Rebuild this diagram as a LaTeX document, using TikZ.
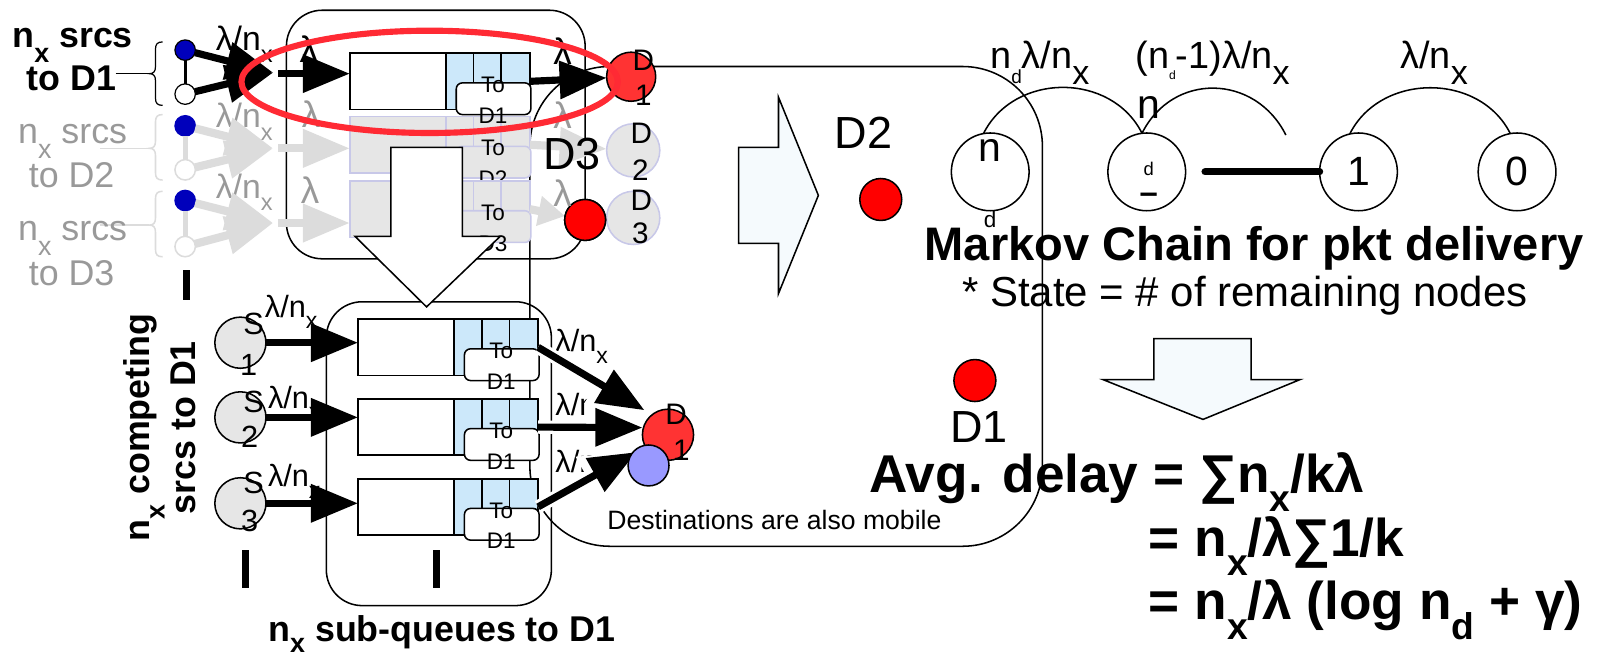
\documentclass[tikz,border=0pt]{standalone}
\usepackage{fontspec}
\setmainfont{Liberation Sans}
\usepackage{graphicx}
\usetikzlibrary{arrows.meta,shapes.geometric}

\definecolor{qblue}{RGB}{204,232,250}
\definecolor{ggray}{RGB}{230,230,230}
\definecolor{glav}{RGB}{200,200,232}
\definecolor{gtext}{RGB}{153,153,153}
\definecolor{garrow}{RGB}{220,220,220}
\definecolor{dotblue}{RGB}{0,0,187}
\definecolor{redA}{RGB}{255,51,51}
\definecolor{redB}{RGB}{255,0,0}
\definecolor{ellred}{RGB}{255,42,52}
\definecolor{lav}{RGB}{153,153,255}
\definecolor{barrow}{RGB}{245,250,253}

\newcommand\myfs[1]{\fontsize{#1}{#1}\selectfont}
\newcommand\mylo[3]{\raisebox{#2}{\scalebox{#1}{#3}}}

% queue: name, L, T, left fill, right fill, border, label
\newcommand\myqueue[7]{%
 \node[draw=#6, fill=#4, line width=1.5pt, minimum width=176pt, minimum height=55pt, anchor=north west] (#1) at (#2,#3) {};
 \fill[#5] (#2+94,#3) rectangle (#2+176,#3+55);
 \draw[draw=#6, line width=1.5pt] (#2+94,#3) -- (#2+94,#3+55) (#2+121,#3) -- (#2+121,#3+55) (#2+148,#3) -- (#2+148,#3+55) (#2,#3) rectangle (#2+176,#3+55);
 \node[draw=#6, fill=#4, line width=1.5pt, rounded corners=6pt, minimum width=73pt, minimum height=31pt, anchor=north west] (#1t) at (#2+104,#3+29) {};
 \node[font=\myfs{22}] (#1a) at (#2+140,#3+31) {To};
 \node[font=\myfs{22}] (#1b) at (#2+140,#3+61) {#7};
}
% brace: options, x, top, bottom, tip
\newcommand\mybrace[5]{%
 \draw[#1] (#2+7,#3) .. controls (#2+2,#3) and (#2,#3+2) .. (#2,#3+7) -- (#2,#5-7) .. controls (#2,#5-2) and (#2-2,#5) .. (#2-6,#5) .. controls (#2-2,#5) and (#2,#5+2) .. (#2,#5+7) -- (#2,#4-7) .. controls (#2,#4-2) and (#2+2,#4) .. (#2+7,#4);
}

\tikzset{
 every node/.style={inner sep=0pt, outer sep=0pt},
 bigarr/.style={line width=7pt, -{Triangle[length=46pt,width=36pt]}},
 grayarr/.style={draw=garrow, line width=8pt, -{Triangle[length=46pt,width=36pt]}},
 whitearr/.style={draw=white, line width=13pt, -{Triangle[length=54pt,width=46pt]}},
 bdot/.style={circle, draw, fill=dotblue, line width=1.2pt, minimum size=20pt},
 wdot/.style={circle, draw, fill=white, line width=1.2pt, minimum size=20pt},
 gbdot/.style={circle, draw=dotblue, fill=dotblue, line width=1.2pt, minimum size=20pt},
 gwdot/.style={circle, draw=garrow, fill=white, line width=1.5pt, minimum size=20pt},
 mc/.style={circle, draw, line width=1.5pt, minimum size=76pt},
 frame/.style={draw, line width=1.5pt},
 tick/.style={line width=7pt},
}

\begin{document}
\begin{tikzpicture}[x=1pt,y=-1pt]
\useasboundingbox (0,0) rectangle (1568,646);

% ---------- frames ----------
\node[frame, rounded corners=78pt, minimum width=501pt, minimum height=469pt] (dest) at (768.5,299.5) {};
\node[frame, rounded corners=35pt, minimum width=292pt, minimum height=243pt] (toprect) at (426,131.5) {};
\node[frame, rounded corners=35pt, minimum width=220pt, minimum height=297pt] (botrect) at (429,443.5) {};

% ---------- gray row 2 ----------
\mybrace{draw=garrow, line width=1.5pt}{152}{112}{176}{145}
\coordinate (g2s) at (98,145); \coordinate (g2t) at (146,145);
\draw[garrow, line width=1.5pt] (g2s) -- (g2t);
\node[font=\myfs{35}, text=gtext, anchor=base] (g2a) at (71,140) {n\mylo{0.75}{-0.43em}{x} srcs};
\node[font=\myfs{35}, text=gtext, anchor=base] (g2b) at (70,183) {to D2};
\node[gbdot] (bd2) at (181,123) {};
\node[gwdot] (wd2) at (181,166) {};
\draw[garrow, line width=5pt] (bd2) -- (wd2);
\node[font=\myfs{33}, text=gtext, anchor=base west] (ln2) at (211,125) {λ/n\mylo{0.7}{-0.36em}{x}};
\coordinate (cv2) at (267,145);
\draw[grayarr] (bd2) -- (cv2);
\draw[grayarr] (wd2) -- (cv2);
\myqueue{q2}{342}{114}{ggray}{ggray}{glav}{D2}
\coordinate (s2) at (272,145);
\draw[grayarr] (s2) -- (q2.west |- s2);
\node[font=\myfs{36}, text=gtext] (lg2a) at (304,112) {λ};

% ---------- gray row 3 ----------
\mybrace{draw=garrow, line width=1.5pt}{152}{187}{251}{220}
\coordinate (g3s) at (98,220); \coordinate (g3t) at (146,220);
\draw[garrow, line width=1.5pt] (g3s) -- (g3t);
\node[font=\myfs{35}, text=gtext, anchor=base] (g3a) at (71,235) {n\mylo{0.75}{-0.43em}{x} srcs};
\node[font=\myfs{35}, text=gtext, anchor=base] (g3b) at (70,279) {to D3};
\node[gbdot] (bd3) at (181,196) {};
\node[gwdot] (wd3) at (181,241) {};
\draw[garrow, line width=5pt] (bd3) -- (wd3);
\node[font=\myfs{33}, text=gtext, anchor=base west] (ln3) at (211,194) {λ/n\mylo{0.7}{-0.36em}{x}};
\coordinate (cv3) at (267,218);
\draw[grayarr] (bd3) -- (cv3);
\draw[grayarr] (wd3) -- (cv3);
\myqueue{q3}{342}{177}{ggray}{ggray}{glav}{D3}
\coordinate (s3) at (272,218);
\draw[grayarr] (s3) -- (q3.west |- s3);
\node[font=\myfs{36}, text=gtext] (lg3a) at (303,186) {λ};

% gray destinations
\node[circle, draw=glav, fill=ggray, line width=1.5pt, minimum size=52pt] (d2g) at (619,147) {};
\node[circle, draw=glav, fill=ggray, line width=1.5pt, minimum size=52pt] (d3g) at (619,213) {};
\node[circle, draw, fill=redB, line width=1.5pt, minimum size=40pt] (d3r) at (572,215) {};
\draw[grayarr] (q2.east) -- (d2g);
\draw[draw=garrow, line width=8pt, -{Triangle[length=26pt,width=28pt]}] (q3.east) -- (d3r);
\node[circle, draw, fill=redB, line width=1.5pt, minimum size=40pt] (d3r2) at (572,215) {};
\node[font=\myfs{36}, text=gtext] (lg2b) at (550,113) {λ};
\node[font=\myfs{36}, text=gtext] (lg3b) at (550,189) {λ};
\node[font=\myfs{29}] (d2ga) at (627,130) {D};
\node[font=\myfs{29}] (d2gb) at (626,166) {2};
\node[font=\myfs{29}] (d3ga) at (627,196) {D};
\node[font=\myfs{29}] (d3gb) at (626,228) {3};
\node[font=\myfs{44}] (d3big) at (559,151) {D3};

% big down arrow
\draw[frame, fill=white] (382,144) -- (452,144) -- (452,231) -- (489,231) -- (417,300) -- (347,231) -- (382,231) -- cycle;

% ---------- row 1 (black) ----------
\mybrace{line width=1.2pt}{152}{41}{103}{72}
\coordinate (b1s) at (113,72); \coordinate (b1t) at (146,72);
\draw[line width=1.2pt] (b1s) -- (b1t);
\node[font=\bfseries\myfs{35}, anchor=base] (t1a) at (71,46) {n\mylo{0.75}{-0.43em}{x} srcs};
\node[font=\bfseries\myfs{35}, anchor=base] (t1b) at (70,88) {to D1};
\node[bdot] (bd1) at (181,49) {};
\node[wdot] (wd1) at (181,92) {};
\draw[line width=3pt] (bd1) -- (wd1);
\node[font=\myfs{33}, anchor=base west] (ln1) at (211,49) {λ/n\mylo{0.7}{-0.36em}{x}};
\coordinate (cv1) at (267,71);
\draw[bigarr] (bd1) -- (cv1);
\draw[bigarr] (wd1) -- (cv1);
\myqueue{q1}{342}{52}{white}{qblue}{black}{D1}
\coordinate (s1) at (272,72);
\draw[bigarr] (s1) -- (q1.west |- s1);
\node[font=\myfs{36}] (l1a) at (302,48) {λ};
\node[font=\myfs{36}] (l1b) at (550,50) {λ};
\node[circle, draw, fill=redA, line width=1.5pt, minimum size=48pt] (d1t) at (617,75) {};
\draw[bigarr] (q1.east) -- (d1t);

% red ellipse
\node[ellipse, draw=ellred, line width=6pt, minimum width=368pt, minimum height=100pt] (ell) at (420,80) {};
\node[font=\myfs{29}] (d1ta) at (629,59) {D};
\node[font=\myfs{29}] (d1tb) at (629,93) {1};
\draw[tick] (182,264) -- (182,293);

% ---------- bottom section ----------
\node[font=\bfseries\myfs{35}, rotate=90, anchor=base] (rc1) at (146,418) {n\mylo{0.75}{-0.43em}{x} competing};
\node[font=\bfseries\myfs{35}, rotate=90, anchor=base] (rc2) at (191,418) {srcs to D1};

\node[circle, draw, fill=ggray, line width=1.5pt, minimum size=50pt] (sa) at (235,335) {};
\node[circle, draw, fill=ggray, line width=1.5pt, minimum size=50pt] (sb) at (235,408) {};
\node[circle, draw, fill=ggray, line width=1.5pt, minimum size=50pt] (sc) at (235,492) {};
\node[font=\myfs{30}] (saa) at (248,317) {S};
\node[font=\myfs{30}] (sab) at (243,357) {1};
\node[font=\myfs{30}] (sba) at (248,393) {S};
\node[font=\myfs{30}] (sbb) at (244,427) {2};
\node[font=\myfs{30}] (sca) at (248,472) {S};
\node[font=\myfs{30}] (scb) at (244,509) {3};

\node[font=\myfs{30}, anchor=base west] (la1) at (259,310) {λ/n\mylo{0.75}{-0.38em}{x}};
\node[font=\myfs{30}, anchor=base west] (la2) at (262,399) {λ/n\mylo{0.75}{-0.38em}{x}};
\node[font=\myfs{30}, anchor=base west] (la3) at (262,476) {λ/n\mylo{0.75}{-0.38em}{x}};

\myqueue{bq1}{350}{312}{white}{qblue}{black}{D1}
\myqueue{bq2}{350}{390}{white}{qblue}{black}{D1}
\myqueue{bq3}{350}{468}{white}{qblue}{black}{D1}

\draw[bigarr] (sa.east) -- (bq1.west |- sa.east);
\draw[bigarr] (sb.east) -- (bq2.west |- sb.east);
\draw[bigarr] (sc.east) -- (bq3.west |- sc.east);

\node[font=\myfs{30}, anchor=base west] (lr1) at (543,344) {λ/n\mylo{0.75}{-0.38em}{x}};
\node[font=\myfs{30}, anchor=base west] (lr2) at (543,406) {λ/n\mylo{0.75}{-0.38em}{x}};
\node[font=\myfs{30}, anchor=base west] (lr3) at (543,462) {λ/n\mylo{0.75}{-0.38em}{x}};

\coordinate (e1) at (630,401);
\coordinate (e2) at (628,418);
\coordinate (e3) at (622,442);
\draw[whitearr] (bq1.east) -- (e1);
\draw[whitearr] (bq2.east) -- (e2);
\draw[whitearr] (bq3.east) -- (e3);
\draw[bigarr] (bq1.east) -- (e1);
\draw[bigarr] (bq2.east) -- (e2);
\draw[bigarr] (bq3.east) -- (e3);

\node[circle, draw, fill=redA, line width=1.5pt, minimum size=50pt] (d1b) at (653,425) {};
\node[circle, draw, fill=lav, line width=1.5pt, minimum size=40pt] (lv) at (634,455) {};
\node[font=\myfs{29}] (d1ba) at (661,405) {D};
\node[font=\myfs{29}] (d1bb) at (666,440) {1};

\draw[tick] (240,538) -- (240,575);
\draw[tick] (427,538) -- (427,575);
\node[font=\bfseries\myfs{35}, anchor=base] (subq) at (432,627) {n\mylo{0.75}{-0.3em}{x} sub-queues to D1};
\node[font=\myfs{26}, anchor=base] (mob) at (757,518) {Destinations are also mobile};

% ---------- middle ----------
\draw[frame, fill=barrow] (722,144) -- (761,144) -- (761,95) -- (800,191) -- (761,287) -- (761,238) -- (722,238) -- cycle;
\node[font=\myfs{44}] (d2txt) at (844,130) {D2};
\node[circle, draw, fill=redB, line width=1.5pt, minimum size=41pt] (rd2) at (861,195) {};
\node[circle, draw, fill=redB, line width=1.5pt, minimum size=41pt] (rd1) at (953,372) {};
\node[font=\myfs{44}] (d1txt) at (957,417) {D1};

% ---------- Markov chain ----------
\node[mc] (nd) at (968,168) {};
\node[mc] (c2) at (1121,168) {};
\node[mc] (c1) at (1328,168) {};
\node[mc] (c0) at (1483,168) {};
\node[font=\myfs{40}] (ndn) at (968,147) {n};
\node[font=\myfs{22}] (ndd) at (968,215) {d};
\node[font=\myfs{40}] (c2n) at (1123,105) {n};
\node[font=\myfs{18}] (c2d) at (1123,165) {d};
\node[font=\bfseries\myfs{32}] (c2m) at (1123,194) {–};
\node[font=\myfs{40}] (c1t) at (1328,168) {1};
\node[font=\myfs{40}] (c0t) at (1483,168) {0};
\coordinate (tl) at (1178,168);
\draw[line width=7pt, line cap=round] (tl) -- (c1.west);
\coordinate (arc2end) at (1257,132);
\draw[line width=1.5pt] (nd.100) .. controls +(30,-60) and +(-30,-60) .. (c2.97);
\draw[line width=1.5pt] (c2.97) .. controls +(30,-60) and +(-30,-60) .. (arc2end);
\draw[line width=1.5pt] (c1.103) .. controls +(30,-60) and +(-30,-60) .. (c0.100);
\node[font=\myfs{37}, anchor=base west] (lab1) at (968,67) {n\mylo{0.5}{-0.4em}{d}λ/n\mylo{0.9}{-0.42em}{x}};
\node[font=\myfs{37}, anchor=base west] (lab2) at (1110,67) {(n\mylo{0.32}{-0.3em}{d}-1)λ/n\mylo{0.9}{-0.42em}{x}};
\node[font=\myfs{37}, anchor=base west] (lab3) at (1369,67) {λ/n\mylo{0.9}{-0.42em}{x}};

\node[font=\bfseries\myfs{46}, anchor=base] (mk) at (1226,255) {Markov Chain for pkt delivery};
\node[font=\myfs{41}, anchor=base] (st) at (1217,300) {* State = \# of remaining nodes};

\draw[frame, fill=barrow] (1128,331) -- (1223,331) -- (1223,371) -- (1271,371) -- (1176,410) -- (1078,371) -- (1128,371) -- cycle;

\node[font=\bfseries\myfs{52}, anchor=base west] (f1) at (850,481) {Avg. delay = ∑n\mylo{0.7}{-0.36em}{x}/kλ};
\node[font=\bfseries\myfs{52}, anchor=base west] (f2) at (1123,544) {= n\mylo{0.7}{-0.36em}{x}/λ∑1/k};
\node[font=\bfseries\myfs{52}, anchor=base west] (f3) at (1123,606) {= n\mylo{0.7}{-0.36em}{x}/λ (log n\mylo{0.7}{-0.36em}{d} + γ)};
\end{tikzpicture}
\end{document}
